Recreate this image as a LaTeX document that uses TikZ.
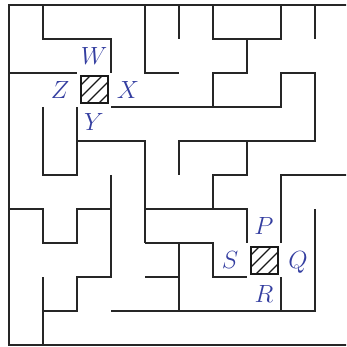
\documentclass[tikz,border=0pt]{standalone}
\definecolor{lblue}{RGB}{52,62,160}
\begin{document}
\begin{tikzpicture}[x=34pt,y=-34pt,
  wall/.style={line width=1.4pt, draw=black!85, line join=miter},
  lbl/.style={text=lblue, font=\fontsize{25}{25}\selectfont, inner sep=0pt, text height=17pt, text depth=0pt, anchor=center},
  hbox/.style={draw=black!90, line width=2pt, minimum size=27pt, inner sep=0pt,
    path picture={\foreach \c in {-18,-6,6,18}
      \draw[line width=1.3pt, black!90] (path picture bounding box.center) ++(-20pt,{(\c-20)*1pt}) -- ++(40pt,40pt);}}]
\clip (-9pt,5pt) rectangle (337pt,-342pt);
% outer walls
\draw[wall] (10,0) -- (0,0) -- (0,10) -- (10,10);
% inner walls
\draw[wall] (1,0) -- (1,1) -- (3,1) -- (3,2);
\draw[wall] (0,2) -- (2,2);
\draw[wall] (4,0) -- (4,2) -- (5,2);
\draw[wall] (5,0) -- (5,1);
\draw[wall] (6,0) -- (6,1) -- (8,1) -- (8,0);
\draw[wall] (9,0) -- (9,1);
\draw[wall] (7,1) -- (7,2) -- (6,2) -- (6,3);
\draw[wall] (3,3) -- (8,3) -- (8,2) -- (9,2) -- (9,4) -- (5,4) -- (5,5);
\draw[wall] (1,3) -- (1,5) -- (2,5) -- (2,3);
\draw[wall] (2,4) -- (4,4) -- (4,7);
\draw[wall] (4,6) -- (7,6) -- (7,7);
\draw[wall] (7,4) -- (7,5) -- (6,5) -- (6,6);
\draw[wall] (8,7) -- (8,5) -- (10,5);
\draw[wall] (4,7) -- (6,7) -- (6,8) -- (7,8);
\draw[wall] (4,8) -- (5,8);
\draw[wall] (5,7) -- (5,9);
\draw[wall] (3,9) -- (9,9) -- (9,6);
\draw[wall] (8,8) -- (8,9);
\draw[wall] (0,6) -- (1,6) -- (1,7) -- (2,7) -- (2,6) -- (3,6);
\draw[wall] (3,5) -- (3,8) -- (2,8) -- (2,9) -- (1,9);
\draw[wall] (1,8) -- (1,10);
% hatched squares
\node[hbox] (box1) at (2.5,2.5) {};
\node[hbox] (box2) at (7.5,7.5) {};
% labels
\node[lbl] (W) at (2.5,1.5) {$W$};
\node[lbl] (X) at (3.5,2.5) {$X$};
\node[lbl] (Y) at (2.5,3.45) {$Y$};
\node[lbl] (Z) at (1.5,2.5) {$Z$};
\node[lbl] (P) at (7.5,6.5) {$P$};
\node[lbl] (Q) at (8.5,7.5) {$Q$};
\node[lbl] (R) at (7.5,8.5) {$R$};
\node[lbl] (S) at (6.5,7.5) {$S$};
\end{tikzpicture}
\end{document}
